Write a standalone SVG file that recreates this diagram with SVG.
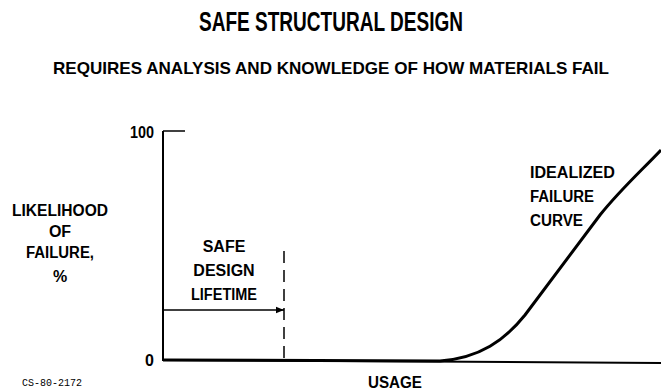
<svg xmlns="http://www.w3.org/2000/svg" width="661" height="392" viewBox="0 0 661 392">
<defs>
<style>
text{font-family:"Liberation Sans",Arial,sans-serif;fill:#000;}
.t{font-size:27px;font-weight:bold;}
.s{font-size:17px;font-weight:bold;}
.l{font-size:16px;font-weight:bold;}
.c{font-family:"Liberation Mono","Courier New",monospace;font-size:10px;}
.ln{stroke:#000;fill:none;}
</style>
<marker id="ah" viewBox="0 0 10 10" refX="10" refY="5" markerWidth="10" markerHeight="8" markerUnits="userSpaceOnUse" orient="auto"><path d="M0,1 L10,5 L0,9 Z" fill="#000"/></marker>
</defs>
<g id="title">
<text class="t" x="331" y="31" text-anchor="middle" textLength="264" lengthAdjust="spacingAndGlyphs">SAFE STRUCTURAL DESIGN</text>
<text class="s" x="331" y="74" text-anchor="middle" textLength="556" lengthAdjust="spacingAndGlyphs">REQUIRES ANALYSIS AND KNOWLEDGE OF HOW MATERIALS FAIL</text>
</g>
<g id="axes">
<path class="ln" stroke-width="2" d="M163,131 L163,360 L661,363"/>
<path class="ln" stroke-width="1.5" d="M163,131 L185,131"/>
<text class="l" x="154" y="138" text-anchor="end" textLength="24" lengthAdjust="spacingAndGlyphs">100</text>
<text class="l" x="154" y="366" text-anchor="end">0</text>
</g>
<g id="ylabel">
<text class="l" x="60" y="216" text-anchor="middle" textLength="96" lengthAdjust="spacingAndGlyphs">LIKELIHOOD</text>
<text class="l" x="60" y="237" text-anchor="middle">OF</text>
<text class="l" x="60" y="258" text-anchor="middle" textLength="68" lengthAdjust="spacingAndGlyphs">FAILURE,</text>
<text class="l" x="60" y="282" text-anchor="middle">%</text>
</g>
<g id="safe-design">
<text class="l" x="224" y="252" text-anchor="middle">SAFE</text>
<text class="l" x="224" y="276" text-anchor="middle">DESIGN</text>
<text class="l" x="224" y="300" text-anchor="middle" textLength="66" lengthAdjust="spacingAndGlyphs">LIFETIME</text>
</g>
<g id="connectors">
<path class="ln" stroke-width="1.5" stroke-dasharray="12,7" d="M284,251 L284,358"/>
<path class="ln" stroke-width="1.5" marker-end="url(#ah)" d="M164,310 L284,310"/>
</g>
<g id="curve">
<path class="ln" stroke-width="3" d="M163,360 L440,361 C480,358 505,340 525,315 L600,215 C620,190 640,172 661,150"/>
<text class="l" x="530" y="178" textLength="85" lengthAdjust="spacingAndGlyphs">IDEALIZED</text>
<text class="l" x="530" y="202" textLength="64" lengthAdjust="spacingAndGlyphs">FAILURE</text>
<text class="l" x="530" y="226" textLength="53" lengthAdjust="spacingAndGlyphs">CURVE</text>
</g>
<g id="xlabel">
<text class="l" x="395" y="388" text-anchor="middle" textLength="54" lengthAdjust="spacingAndGlyphs">USAGE</text>
<text class="c" x="22" y="386">CS-80-2172</text>
</g>
</svg>
